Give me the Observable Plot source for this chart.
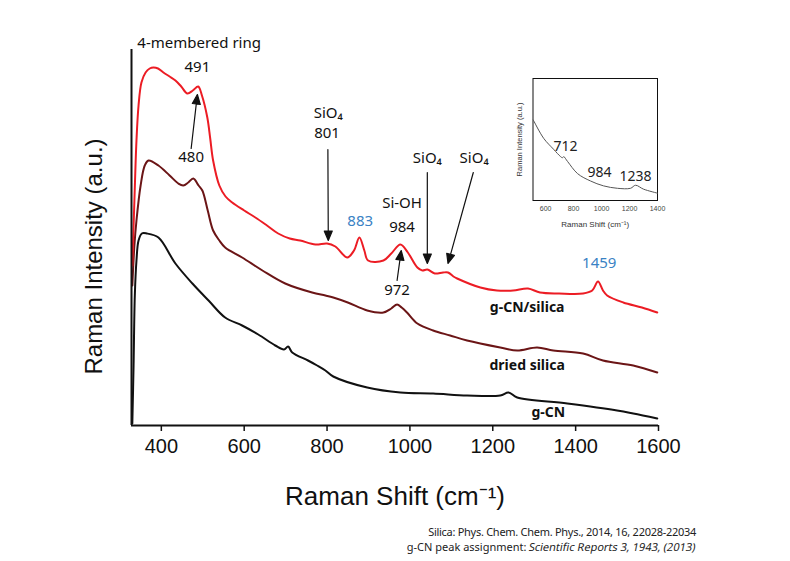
<!DOCTYPE html>
<html>
<head>
<meta charset="utf-8">
<script src="https://cdn.jsdelivr.net/npm/d3@7"></script>
<script src="https://cdn.jsdelivr.net/npm/@observablehq/plot@0.6"></script>
<style>
  body { margin: 0; background: #fff; }
  #wrap { position: relative; width: 790px; height: 561px; overflow: hidden; background: #fff; }
  #main svg { display: block; }
  #inset { position: absolute; left: 505px; top: 68px; }
  #inset svg { display: block; }
  #caption { position: absolute; top: 524px; right: 94px; text-align: right; font-family: "Noto Sans", sans-serif; font-size: 11px; line-height: 15px; color: #222; white-space: nowrap; }
  #caption .l1 { letter-spacing: -0.28px; }
  #caption .it { display: inline-block; transform: skewX(-11deg); }
</style>
</head>
<body>
<div id="wrap">
  <div id="main"></div>
  <div id="inset"></div>
  <div id="caption"><span class="l1">Silica: Phys. Chem. Chem. Phys., 2014, 16, 22028-22034</span><br>g-CN peak assignment: <span class="it">Scientific Reports 3, 1943, (2013)</span></div>
</div>
<script>
// ---- data (Raman shift cm^-1, intensity a.u.) ----
const xTicks = [400, 600, 800, 1000, 1200, 1400, 1600];
const insetTicks = [600, 800, 1000, 1200, 1400];

const gcnSilica = [
  [330,160],[335,225],[340,285],[345,320],[352,343],[362,353],[372,357],[381,358],[392,357],[405,353],
  [420,349],[434,345],[448,339],[463,332],[476,335],[489,339],[498,330],[511,308],[518,287],[525,265],
  [540,240],[555,229],[571,223],[600,215],[627,208],[655,200],[682,192],[710,187],[735,185],[772,181],
  [800,182],[820,179],[849,168],[865,175],[878,188],[890,175],[899,165],[936,165],[955,172],[977,181],
  [995,173],[1018,158],[1030,155],[1042,156],[1060,152],[1080,153],[1092,153],[1105,149],[1114,147],
  [1170,138],[1210,135],[1249,135],[1285,137],[1314,133],[1360,132],[1418,132],[1440,135],[1454,144],
  [1466,135],[1476,130],[1515,123],[1560,118],[1597,113]
];
const driedSilica = [
  [330,140],[335,180],[340,205],[350,240],[360,260],[369,265],[393,260],[420,250],[441,242],[453,240],
  [465,243],[477,247],[490,240],[499,235],[512,215],[525,195],[540,185],[554,178],[595,168],[644,155],
  [699,142],[764,133],[796,130],[815,128],[850,123],[897,115],[936,113],[955,117],[969,121],[980,118],
  [993,113],[1018,102],[1056,95],[1097,90],[1138,85],[1218,78],[1259,75],[1307,78],[1346,75],[1418,72],
  [1466,65],[1539,60],[1597,53]
];
const gcn = [
  [330,2],[333,60],[336,130],[340,165],[345,185],[353,192],[365,192],[393,188],[434,162],[475,142],
  [514,125],[554,108],[595,100],[634,91],[675,80],[696,76],[706,79],[716,73],[754,65],[776,60],
  [796,55],[815,49],[897,38],[977,33],[1056,32],[1138,30],[1218,30],[1238,33],[1259,28],[1380,22],
  [1500,15],[1539,12],[1597,7]
];
const insetCurve = [
  [512,66],[586,51],[657,42],[707,36],[721,35],[729,36],[757,32],[829,22],[921,16],[1014,12],
  [1114,10],[1207,10],[1243,12.5],[1300,9.3],[1400,6]
];

const ringLabel = [{x: 342, y: 382, text: "4-membered ring"}];
const blackLabels = [
  {x: 487, y: 358, text: "491"},
  {x: 472, y: 268, text: "480"},
  {x: 803, y: 312, text: "SiO₄"},
  {x: 800, y: 292, text: "801"},
  {x: 981, y: 222, text: "Si-OH"},
  {x: 981, y: 198, text: "984"},
  {x: 969, y: 135, text: "972"},
  {x: 1042, y: 267, text: "SiO₄"},
  {x: 1155, y: 267, text: "SiO₄"}
];
const blueLabels = [
  {x: 880, y: 204, text: "883"},
  {x: 1457, y: 162, text: "1459"}
];
const seriesLabels = [
  {x: 1283, y: 118, text: "g-CN/silica"},
  {x: 1283, y: 60, text: "dried silica"},
  {x: 1334, y: 13, text: "g-CN"}
];
const arrows = [
  {x1: 472, y1: 277, x2: 487, y2: 331},
  {x1: 802, y1: 276, x2: 803, y2: 185},
  {x1: 969, y1: 145, x2: 979, y2: 175},
  {x1: 1042, y1: 253, x2: 1042, y2: 162},
  {x1: 1153, y1: 253, x2: 1092, y2: 162}
];
const insetLabels = [
  {x: 743, y: 44, text: "712"},
  {x: 986, y: 23, text: "984"},
  {x: 1243, y: 20, text: "1238"}
];

// ---- layout ----
const W = 790, H = 520, mL = 131, mR = 132, mT = 49, mB = 95;
const xDomain = [328, 1600], yDomain = [0, 376];
const xs = Plot.scale({x: {domain: xDomain, range: [mL, W - mR]}});
const ys = Plot.scale({y: {domain: yDomain, range: [H - mB, mT]}});

const headShape = {
  draw(context, l) {
    const h = 9.5, w = 4;
    context.moveTo(0, 0);
    context.lineTo(0, -l + h);
    context.moveTo(0, -l);
    context.lineTo(-w, -l + h);
    context.lineTo(w, -l + h);
    context.closePath();
  }
};

const arrowMarks = arrows.map(a => {
  const dx = xs.apply(a.x2) - xs.apply(a.x1);
  const dy = ys.apply(a.y2) - ys.apply(a.y1);
  const len = Math.hypot(dx, dy);
  const rot = Math.atan2(dx, -dy) * 180 / Math.PI;
  return Plot.vector([a], {x: "x1", y: "y1", length: len, rotate: rot, anchor: "start",
    shape: headShape, stroke: "#111", fill: "#111", strokeWidth: 1.2});
});

const annFont = "Noto Sans, Open Sans, sans-serif";
const axFont = "Liberation Sans, Arial, sans-serif";

const main = Plot.plot({
  width: W, height: H, marginLeft: mL, marginRight: mR, marginTop: mT, marginBottom: mB,
  x: {domain: xDomain},
  y: {domain: yDomain, axis: null},
  style: {background: "white", color: "#111"},
  marks: [
    Plot.axisX({ticks: xTicks, tickFormat: d => String(d), tickSize: 6, tickPadding: 7, fontSize: 20,
      fontFamily: axFont, label: null, strokeWidth: 1.5, fill: "#111"}),
    Plot.line(gcn, {x: d => d[0], y: d => d[1], stroke: "#111", strokeWidth: 2, curve: "catmull-rom"}),
    Plot.line(driedSilica, {x: d => d[0], y: d => d[1], stroke: "#6b1516", strokeWidth: 2, curve: "catmull-rom"}),
    Plot.line(gcnSilica, {x: d => d[0], y: d => d[1], stroke: "#ec1c24", strokeWidth: 2, curve: "catmull-rom"}),
    Plot.ruleY([yDomain[0]], {stroke: "#111", strokeWidth: 2}),
    Plot.ruleX([xDomain[0]], {stroke: "#111", strokeWidth: 2}),
    ...arrowMarks,
    Plot.text(ringLabel, {x: "x", y: "y", text: "text", textAnchor: "start",
      fontSize: 15, fontFamily: annFont, fill: "#111"}),
    Plot.text(blackLabels, {x: "x", y: "y", text: "text", textAnchor: "middle",
      fontSize: 15, fontFamily: annFont, fill: "#111"}),
    Plot.text(blueLabels, {x: "x", y: "y", text: "text", fontSize: 15, fontFamily: annFont, fill: "#3a82c4"}),
    Plot.text(seriesLabels, {x: "x", y: "y", text: "text", fontSize: 14, fontWeight: "bold",
      fontFamily: annFont, fill: "#111"}),
    Plot.text(["Raman Shift (cm⁻¹)"], {text: d => d, frameAnchor: "bottom", lineAnchor: "middle",
      textAnchor: "middle", dy: 71, fontSize: 26, fontFamily: axFont, fill: "#111"}),
    Plot.text(["Raman Intensity (a.u.)"], {text: d => d, frameAnchor: "left", textAnchor: "middle",
      lineAnchor: "middle", rotate: -90, dx: -37, dy: 19, fontSize: 24, fontFamily: axFont, fill: "#111"})
  ]
});
document.getElementById("main").appendChild(main);

const inset = Plot.plot({
  width: 165, height: 165, marginLeft: 27.5, marginRight: 13, marginTop: 10, marginBottom: 33,
  x: {domain: [510, 1400]},
  y: {domain: [0, 100], axis: null},
  style: {background: "transparent", color: "#111"},
  marks: [
    Plot.frame({stroke: "#111", strokeWidth: 1}),
    Plot.axisX({ticks: insetTicks, tickFormat: d => String(d), tickSize: 0, tickPadding: 6, fontSize: 7,
      fontFamily: axFont, label: null, fill: "#444"}),
    Plot.line(insetCurve, {x: d => d[0], y: d => d[1], stroke: "#555", strokeWidth: 1, curve: "catmull-rom"}),
    Plot.text(insetLabels, {x: "x", y: "y", text: "text", fontSize: 14, fontFamily: annFont, fill: "#222"}),
    Plot.text(["Raman Shift (cm⁻¹)"], {text: d => d, frameAnchor: "bottom", lineAnchor: "middle",
      textAnchor: "middle", dy: 24, fontSize: 8, fontFamily: axFont, fill: "#333"}),
    Plot.text(["Raman Intensity (a.u.)"], {text: d => d, frameAnchor: "left", textAnchor: "middle",
      lineAnchor: "middle", rotate: -90, dx: -13.5, fontSize: 7.5, fontFamily: axFont, fill: "#333"})
  ]
});
document.getElementById("inset").appendChild(inset);
</script>
</body>
</html>
